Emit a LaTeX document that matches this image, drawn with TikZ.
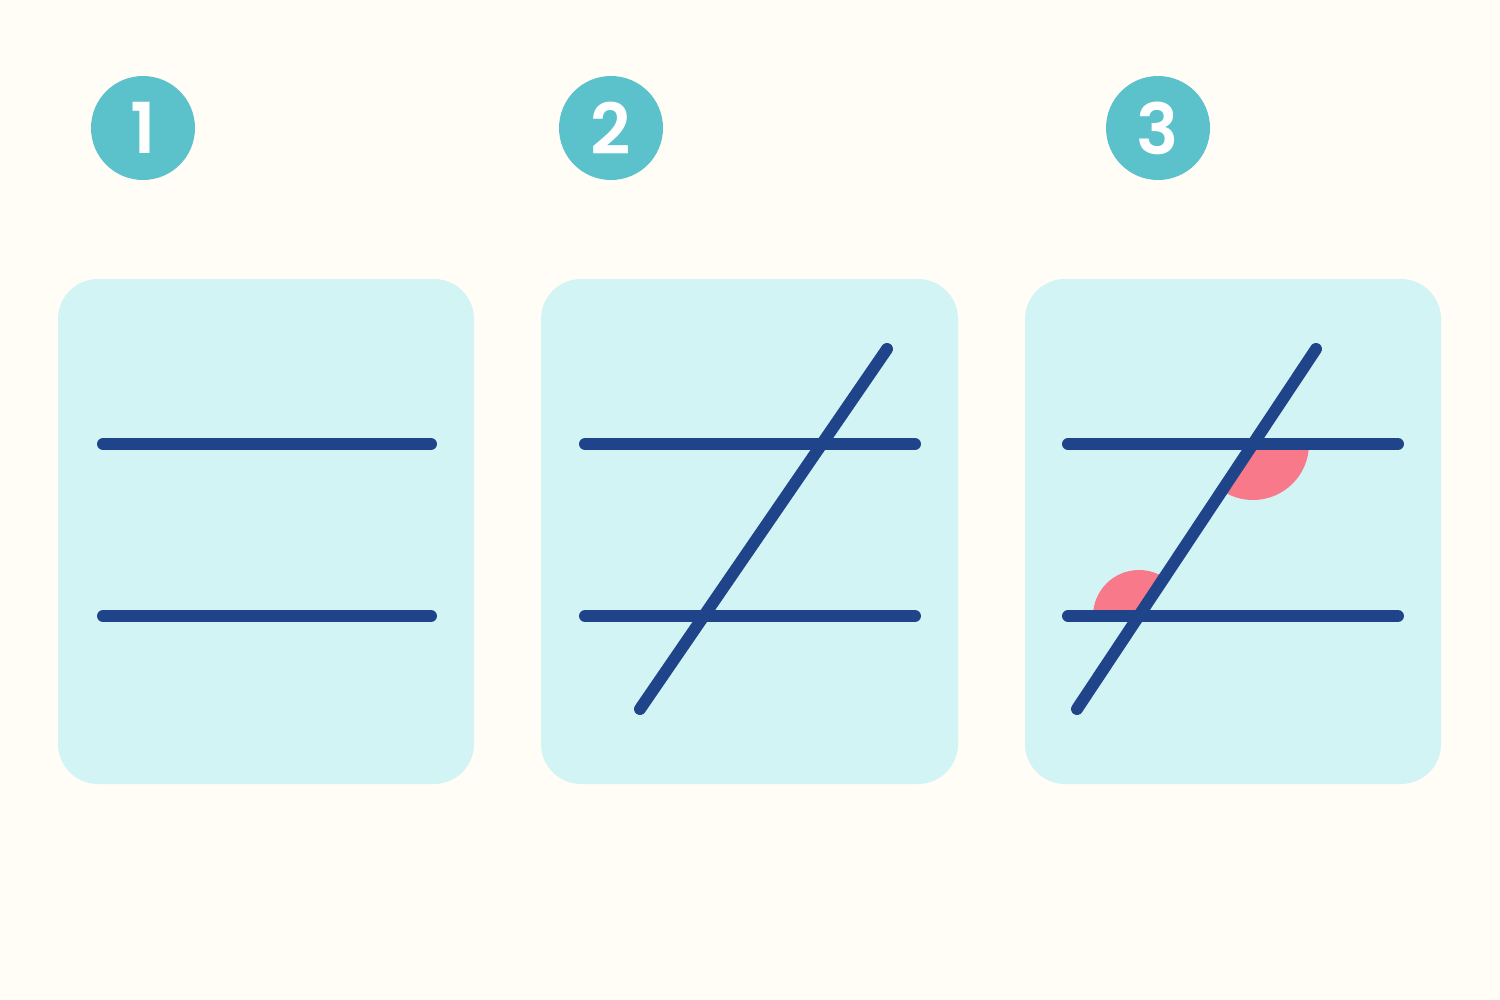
\documentclass[tikz,border=0pt]{standalone}
\usepackage{fontspec}
\setmainfont{Poppins}
\newfontfamily\badgefont{Poppins SemiBold}
\definecolor{bgc}{HTML}{FFFDF5}
\definecolor{panelc}{HTML}{D3F4F5}
\definecolor{linec}{HTML}{1F4489}
\definecolor{badgec}{HTML}{5BC2CC}
\definecolor{pinkc}{HTML}{F87A8A}
\tikzset{
  panel/.style={fill=panelc, draw=none, rounded corners=40*0.01cm},
  seg/.style={draw=linec, line width=3.4pt, line cap=round},
  badge/.style={circle, fill=badgec, minimum size=104*0.01cm, inner sep=0pt, text=white,
    font=\badgefont\fontsize{20}{24}\selectfont},
  angmark/.style={fill=pinkc, draw=none}
}
\begin{document}
\begin{tikzpicture}[x=0.01cm,y=-0.01cm]
\fill[bgc] (0,0) rectangle (1500,1000);
\useasboundingbox (0,0) rectangle (1500,1000);
% badges
\node[badge] (b1) at (143,128) {1};
\node[badge] (b2) at (611,128) {2};
\node[badge] (b3) at (1158,128) {3};
% panels
\fill[panel] (58,279) rectangle (474,784);
\fill[panel] (541,279) rectangle (958,784);
\fill[panel] (1025,279) rectangle (1441,784);
% panel 1
\coordinate (p1a) at (103,444); \coordinate (p1b) at (431,444);
\coordinate (p1c) at (103,616); \coordinate (p1d) at (431,616);
\draw[seg] (p1a) -- (p1b);
\draw[seg] (p1c) -- (p1d);
% panel 2
\coordinate (p2a) at (585,444); \coordinate (p2b) at (915,444);
\coordinate (p2c) at (585,616); \coordinate (p2d) at (915,616);
\coordinate (p2t) at (887,349); \coordinate (p2u) at (640,709);
\draw[seg] (p2a) -- (p2b);
\draw[seg] (p2c) -- (p2d);
\draw[seg] (p2t) -- (p2u);
% panel 3
\coordinate (p3a) at (1068,444); \coordinate (p3b) at (1398,444);
\coordinate (p3c) at (1068,616); \coordinate (p3d) at (1398,616);
\coordinate (p3t) at (1316,349); \coordinate (p3u) at (1077,709);
\coordinate (i1) at (1253,444);
\coordinate (i2) at (1139,616);
\fill[angmark] (i1) -- ++(0:56) arc[start angle=0, end angle=123.7, radius=56] -- cycle;
\fill[angmark] (i2) -- ++(180:46) arc[start angle=180, end angle=303.7, radius=46] -- cycle;
\draw[seg] (p3a) -- (p3b);
\draw[seg] (p3c) -- (p3d);
\draw[seg] (p3t) -- (p3u);
\end{tikzpicture}
\end{document}
